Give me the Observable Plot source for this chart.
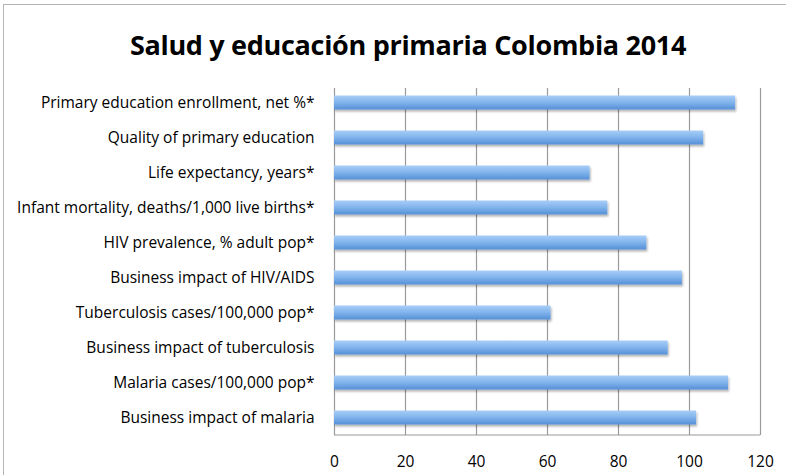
<!DOCTYPE html>
<html>
<head>
<meta charset="utf-8">
<script src="https://cdn.jsdelivr.net/npm/d3@7"></script>
<script src="https://cdn.jsdelivr.net/npm/@observablehq/plot@0.6"></script>
<style>
  html, body { margin: 0; padding: 0; background: #fff; }
  #wrap { position: relative; width: 786px; height: 475px; overflow: hidden; font-family: "Open Sans", "Noto Sans", sans-serif; }
  #border { position: absolute; left: 3px; top: 4px; width: 800px; height: 500px; border: 1px solid #b5b5b5; box-sizing: border-box; }
  #title { position: absolute; left: 15px; top: 0; width: 786px; height: 80px; text-align: center; line-height: 90px; font-size: 27px; font-weight: bold; color: #000; letter-spacing: -0.3px; }
  #chart { position: absolute; left: 0; top: 80px; }
</style>
</head>
<body>
<div id="wrap">
  <div id="border"></div>
  <div id="title">Salud y educación primaria Colombia 2014</div>
  <div id="chart"></div>
</div>
<script>
const categories = [
  "Primary education enrollment, net %*",
  "Quality of primary education",
  "Life expectancy, years*",
  "Infant mortality, deaths/1,000 live births*",
  "HIV prevalence, % adult pop*",
  "Business impact of HIV/AIDS",
  "Tuberculosis cases/100,000 pop*",
  "Business impact of tuberculosis",
  "Malaria cases/100,000 pop*",
  "Business impact of malaria"
];
const values = [113, 104, 72, 77, 88, 98, 61, 94, 111, 102];
const xTicks = [0, 20, 40, 60, 80, 100, 120];

const data = categories.map((c, i) => ({category: c, value: values[i]}));

const H = 395, MT = 5, MB = 40;
const chart = Plot.plot({
  width: 786,
  height: H,
  marginTop: MT,
  marginBottom: MB,
  marginLeft: 334,
  marginRight: 26,
  style: {fontFamily: "'Open Sans', 'Noto Sans', sans-serif", fontSize: "15.5px", color: "#000", background: "transparent"},
  x: {domain: [0, 120], ticks: xTicks, tickSize: 0, tickPadding: 20, label: null, line: false},
  y: {domain: categories, paddingInner: 0.6, paddingOuter: 0.3, round: false, tickSize: 0, tickPadding: 20, label: null},
  marks: [
    Plot.ruleX(xTicks, {stroke: "#9a9a9a", strokeWidth: 1.2, insetTop: 3}),
    Plot.barX(data, {x: "value", y: "category", fill: "url(#barGrad)"})
  ]
});

const svg = d3.select(chart);
const defs = svg.insert("defs", ":first-child");
const g = defs.append("linearGradient").attr("id", "barGrad").attr("x1", 0).attr("y1", 0).attr("x2", 0).attr("y2", 1);
g.append("stop").attr("offset", "0%").attr("stop-color", "#a9cdf7");
g.append("stop").attr("offset", "50%").attr("stop-color", "#80b3ec");
g.append("stop").attr("offset", "100%").attr("stop-color", "#5590d6");
const f = defs.append("filter").attr("id", "barShadow").attr("x", "-5%").attr("y", "-30%").attr("width", "110%").attr("height", "180%");
f.append("feDropShadow").attr("dx", 1).attr("dy", 2).attr("stdDeviation", 1.2).attr("flood-color", "#000").attr("flood-opacity", 0.3);
svg.selectAll("[aria-label='bar'] rect").attr("filter", "url(#barShadow)");

// bottom frame line drawn from the x scale range
const xs = chart.scale("x");
const bottomY = H - MB;
svg.append("line")
  .attr("x1", xs.apply(0)).attr("x2", xs.apply(120))
  .attr("y1", bottomY).attr("y2", bottomY)
  .attr("stroke", "#9a9a9a").attr("stroke-width", 1.2);

document.getElementById("chart").appendChild(chart);
</script>
</body>
</html>
